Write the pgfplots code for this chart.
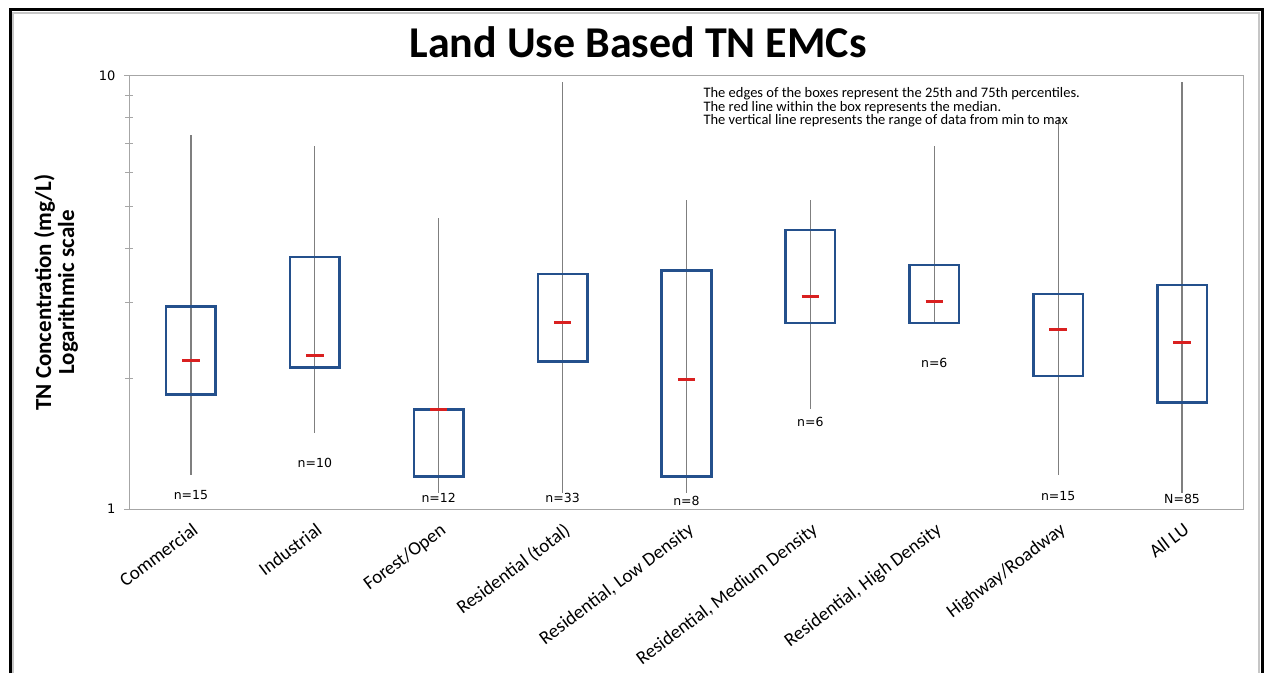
\documentclass[border=0pt]{standalone}
\usepackage{pgfplots}
\pgfplotsset{compat=1.18}
\usepackage{fontspec}
\setmainfont{Carlito}
\newfontfamily\numfont{DejaVu Sans}
\definecolor{boxblue}{HTML}{24508C}
\definecolor{medred}{HTML}{D92020}
\definecolor{whiskgray}{HTML}{7F7F7F}
\definecolor{axgray}{HTML}{A6A6A6}

\begin{document}
\begin{tikzpicture}
\useasboundingbox (0,0) rectangle (1267pt,673pt);
% outer frame of the chart
\draw[gray!45, line width=2pt] (13pt,0) -- (13pt,660pt) -- (1258.5pt,660pt) -- (1258.5pt,0);
\draw[black, line width=3pt] (10pt,0) -- (10pt,663.5pt) -- (1262pt,663.5pt) -- (1262pt,0);

\node[font=\bfseries\fontsize{44}{46}\selectfont] at (638pt,631pt) {Land Use Based TN EMCs};

\begin{axis}[
  at={(129pt,164pt)}, anchor=south west,
  width=1115pt, height=433pt, scale only axis,
  ymode=log, ymin=1, ymax=10,
  xmin=-0.5, xmax=8.5,
  xtick={0,...,8},
  xticklabels={Commercial, Industrial, Forest/Open, Residential (total),
    {Residential, Low Density}, {Residential, Medium Density},
    {Residential, High Density}, Highway/Roadway, All LU},
  x tick style={draw=none},
  xticklabel style={rotate=37, anchor=north east, xshift=-1pt, yshift=-3pt,
    font=\fontsize{19}{19}\selectfont},
  ytick={1,10}, yticklabels={1,10},
  minor ytick={2,3,4,5,6,7,8,9},
  ytick pos=left,
  yticklabel style={font=\numfont\fontsize{13}{13}\selectfont, xshift=-5pt},
  tick align=center, major tick length=10pt, minor tick length=8pt,
  tick style={axgray, line width=1pt},
  axis line style={axgray, line width=1pt},
  ylabel={TN Concentration (mg/L)\\Logarithmic scale},
  every axis y label/.style={at={(axis description cs:-0.0655,0.5)},
    rotate=90, anchor=center, align=center,
    font=\bfseries\fontsize{23}{23}\selectfont},
  unbounded coords=jump,
  clip=false,
]
% whiskers: min to max
\addplot[whiskgray, line width=1.2pt] coordinates {
  (0,1.20) (0,7.31) (0,nan)
  (1,1.50) (1,6.89) (1,nan)
  (2,1.09) (2,4.70) (2,nan)
  (3,1.09) (3,9.69) (3,nan)
  (4,1.09) (4,5.17) (4,nan)
  (5,1.70) (5,5.17) (5,nan)
  (6,2.69) (6,6.89) (6,nan)
  (7,1.20) (7,8.00) (7,nan)
  (8,1.09) (8,9.69)
};
% boxes: 25th to 75th percentile
\addplot[boxblue, line width=2.6pt, line join=miter] coordinates {
  (-0.2,1.84) (0.2,1.84) (0.2,2.94) (-0.2,2.94) (-0.2,1.84) (0.2,1.84) (0,nan)
  (0.8,2.12) (1.2,2.12) (1.2,3.82) (0.8,3.82) (0.8,2.12) (1.2,2.12) (1,nan)
  (1.8,1.19) (2.2,1.19) (2.2,1.70) (1.8,1.70) (1.8,1.19) (2.2,1.19) (2,nan)
  (2.8,2.19) (3.2,2.19) (3.2,3.49) (2.8,3.49) (2.8,2.19) (3.2,2.19) (3,nan)
  (3.8,1.19) (4.2,1.19) (4.2,3.56) (3.8,3.56) (3.8,1.19) (4.2,1.19) (4,nan)
  (4.8,2.69) (5.2,2.69) (5.2,4.41) (4.8,4.41) (4.8,2.69) (5.2,2.69) (5,nan)
  (5.8,2.69) (6.2,2.69) (6.2,3.66) (5.8,3.66) (5.8,2.69) (6.2,2.69) (6,nan)
  (6.8,2.03) (7.2,2.03) (7.2,3.14) (6.8,3.14) (6.8,2.03) (7.2,2.03) (7,nan)
  (7.8,1.76) (8.2,1.76) (8.2,3.29) (7.8,3.29) (7.8,1.76) (8.2,1.76)
};
% medians
\addplot[medred, line width=3pt] coordinates {
  (-0.07,2.20) (0.07,2.20) (0,nan)
  (0.93,2.26) (1.07,2.26) (1,nan)
  (1.93,1.70) (2.07,1.70) (2,nan)
  (2.93,2.70) (3.07,2.70) (3,nan)
  (3.93,1.99) (4.07,1.99) (4,nan)
  (4.93,3.09) (5.07,3.09) (5,nan)
  (5.93,3.01) (6.07,3.01) (6,nan)
  (6.93,2.60) (7.07,2.60) (7,nan)
  (7.93,2.42) (8.07,2.42)
};

\begin{scope}[every node/.style={font=\numfont\fontsize{12.5}{12.5}\selectfont}]
\node at (axis cs:0,1.077) {n=15};
\node at (axis cs:1,1.277) {n=10};
\node at (axis cs:2,1.06) {n=12};
\node at (axis cs:3,1.06) {n=33};
\node at (axis cs:4,1.045) {n=8};
\node at (axis cs:5,1.59) {n=6};
\node at (axis cs:6,2.18) {n=6};
\node at (axis cs:7,1.07) {n=15};
\node at (axis cs:8,1.055) {N=85};
\end{scope}
\end{axis}

\node[anchor=north west, align=left, font=\fontsize{14.5}{13.5}\selectfont] at (700pt,589pt)
  {The edges of the boxes represent the 25th and 75th percentiles.\\
   The red line within the box represents the median.\\
   The vertical line represents the range of data from min to max};
\end{tikzpicture}
\end{document}
